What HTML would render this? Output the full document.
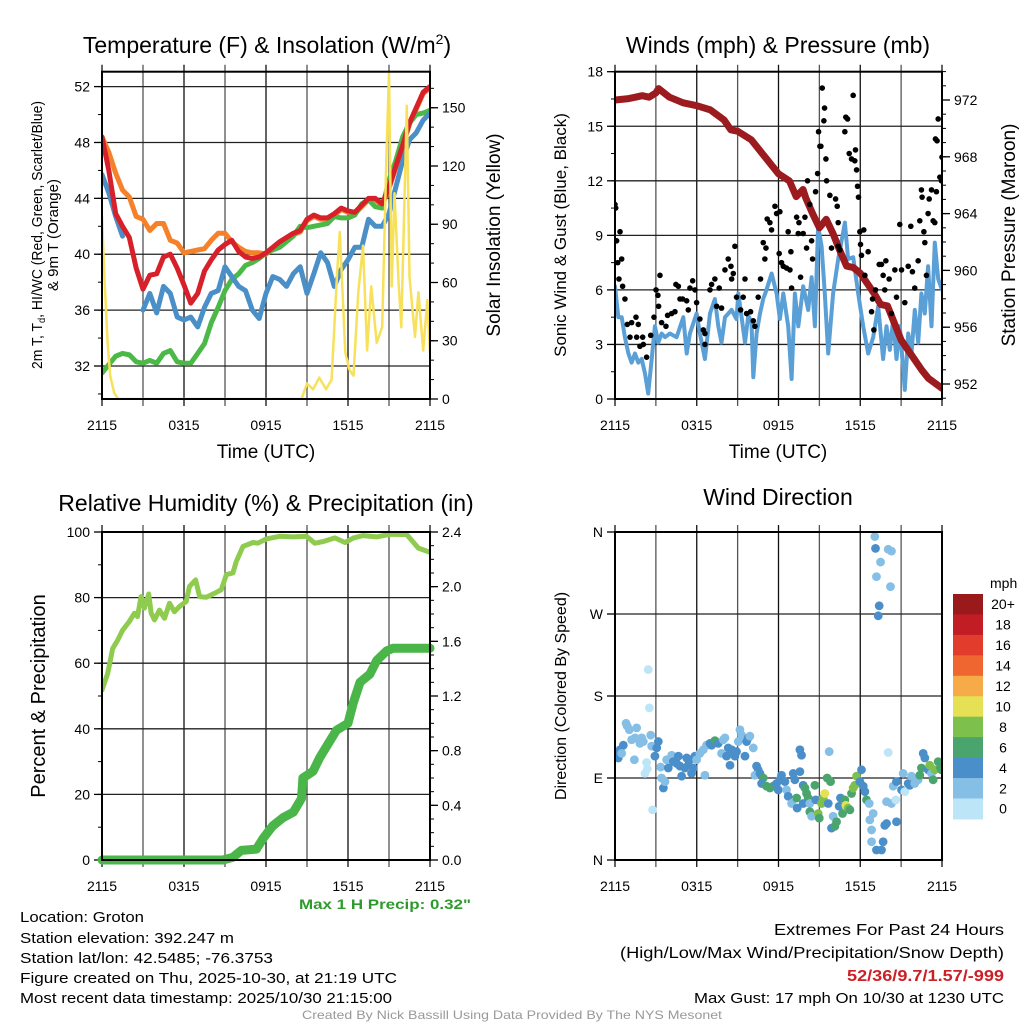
<!DOCTYPE html>
<html><head><meta charset="utf-8"><style>
html,body{margin:0;padding:0;background:#fff;}
svg{display:block;font-family:"Liberation Sans",sans-serif;}
</style></head><body>
<svg id="chart" width="1024" height="1024" viewBox="0 0 1024 1024" xmlns="http://www.w3.org/2000/svg">
<defs>
<clipPath id="c1"><rect x="102" y="71.7" width="328" height="327.3"/></clipPath>
<clipPath id="c2"><rect x="615" y="71.7" width="327" height="327.3"/></clipPath>
<clipPath id="c3"><rect x="102" y="532" width="328" height="328"/></clipPath>
<clipPath id="c4"><rect x="615" y="532" width="327" height="328"/></clipPath>
</defs>
<g font-size="23" text-anchor="middle" fill="#000">
<text x="267" y="53">Temperature (F) &amp; Insolation (W/m<tspan font-size="14" dy="-9">2</tspan><tspan dy="9">)</tspan></text>
<text x="778" y="53">Winds (mph) &amp; Pressure (mb)</text>
<text x="266" y="511">Relative Humidity (%) &amp; Precipitation (in)</text>
<text x="778" y="505">Wind Direction</text>
</g>
<g font-size="19" text-anchor="middle">
<text x="266" y="458">Time (UTC)</text>
<text x="778" y="458">Time (UTC)</text>
<text font-size="15" textLength="268" lengthAdjust="spacingAndGlyphs" transform="translate(42,235) rotate(-90)">2m T, T<tspan font-size="10" dy="3">d</tspan><tspan dy="-3">, HI/WC (Red, Green, Scarlet/Blue)</tspan></text>
<text font-size="15" transform="translate(58,235) rotate(-90)">&amp; 9m T (Orange)</text>
<text transform="translate(500,235) rotate(-90)">Solar Insolation (Yellow)</text>
<text font-size="17" transform="translate(566,235) rotate(-90)">Sonic Wind &amp; Gust (Blue, Black)</text>
<text transform="translate(1015,235) rotate(-90)">Station Pressure (Maroon)</text>
<text font-size="20" transform="translate(45,696) rotate(-90)">Percent &amp; Precipitation</text>
<text font-size="16" transform="translate(566,696) rotate(-90)">Direction (Colored By Speed)</text>
</g>
<text x="471" y="909" font-size="14" font-weight="bold" fill="#2e9a2e" text-anchor="end" textLength="172" lengthAdjust="spacingAndGlyphs">Max 1 H Precip: 0.32"</text>
<g font-size="15" fill="#000">
<text x="20" y="922" textLength="124" lengthAdjust="spacingAndGlyphs">Location: Groton</text>
<text x="20" y="943" textLength="214" lengthAdjust="spacingAndGlyphs">Station elevation: 392.247 m</text>
<text x="20" y="963" textLength="253" lengthAdjust="spacingAndGlyphs">Station lat/lon: 42.5485; -76.3753</text>
<text x="20" y="983" textLength="377" lengthAdjust="spacingAndGlyphs">Figure created on Thu, 2025-10-30, at 21:19 UTC</text>
<text x="20" y="1003" textLength="372" lengthAdjust="spacingAndGlyphs">Most recent data timestamp: 2025/10/30 21:15:00</text>
</g>
<g font-size="16" text-anchor="end">
<text x="1004" y="935" textLength="230" lengthAdjust="spacingAndGlyphs">Extremes For Past 24 Hours</text>
<text x="1004" y="958" textLength="384" lengthAdjust="spacingAndGlyphs">(High/Low/Max Wind/Precipitation/Snow Depth)</text>
<text x="1004" y="981" font-weight="bold" fill="#cc2027" textLength="157" lengthAdjust="spacingAndGlyphs">52/36/9.7/1.57/-999</text>
<text x="1004" y="1003" font-size="15" textLength="310" lengthAdjust="spacingAndGlyphs">Max Gust: 17 mph On 10/30 at 1230 UTC</text>
</g>
<text x="512" y="1019" font-size="12" fill="#999" text-anchor="middle" textLength="420" lengthAdjust="spacingAndGlyphs">Created By Nick Bassill Using Data Provided By The NYS Mesonet</text>
</svg>
<script>
// ---------- data ----------
const halfHours = Array.from({length:49},(_,i)=>i/2);
const tempRed = [48.4,46.0,42.9,42.0,41.2,39.0,37.5,38.5,38.6,39.8,40.0,39.0,37.8,36.5,37.2,38.8,39.6,40.3,40.7,41.0,40.2,39.8,39.7,39.8,40.1,40.5,40.9,41.2,41.5,41.7,42.5,42.8,42.6,42.6,42.9,43.3,43.1,43.0,43.5,44.0,44.0,43.6,44.8,46.3,47.8,49.4,50.5,51.6,52.0];
const tempOrange = [48.4,47.3,45.8,44.6,44.1,42.7,42.5,41.7,42.2,42.2,41.0,40.8,40.1,40.2,40.3,40.4,41.0,41.5,41.5,40.9,40.5,40.2,40.1,40.1,40.0,40.4,40.8,41.1,41.4,41.6,42.4,42.7,42.5,42.5,42.8,43.2,43.0,42.9,43.4,43.9,43.9,43.5,44.7,46.2,47.7,49.3,50.4,51.5,51.9];
const tempGreen = [31.5,32.1,32.7,32.9,32.8,32.3,32.2,32.4,32.2,32.9,33.1,32.3,32.2,32.2,32.9,33.6,35.1,36.2,37.4,38.2,38.6,39.2,39.4,39.7,40.1,40.3,40.5,40.9,41.3,42.0,41.9,42.0,42.1,42.2,42.7,42.6,42.6,42.8,43.6,43.9,43.4,43.3,45.3,46.7,48.4,49.4,50.0,50.1,50.3];
const tempBlue = [45.7,44.4,42.7,41.3,null,null,36.0,37.2,35.8,37.7,37.2,35.5,35.3,35.5,34.8,36.2,37.2,37.4,39.1,38.4,37.7,37.4,36.0,35.4,37.2,38.4,38.2,37.7,38.6,39.1,37.2,38.6,40.1,39.4,37.7,38.9,39.6,40.5,40.5,42.5,42.0,42.0,42.9,44.8,46.7,48.2,48.7,49.6,50.1];
const solarHours = [0,0.2,0.4,0.6,0.9,1.2,14.6,15.0,15.45,15.9,16.4,16.8,17.2,17.4,17.8,18.1,18.4,18.75,19.1,19.4,19.7,20.1,20.5,20.8,21.0,21.2,21.4,21.7,21.9,22.3,22.5,22.9,23.15,23.5,23.8,24.0];
const solarVals = [94,60,30,12,3,0,0,8,5,11,5,10,65,86,24,15,12,55,79,25,58,29,37,123,168,58,106,60,37,151,63,32,55,25,51,24];
const pressHours = [0,1,2,2.5,3,3.2,4,5,6,7,8,8.5,9,10,11,12,12.8,13.3,13.8,14,14.5,15,15.5,16,16.5,17,17.5,18,18.5,19,19.5,20,20.5,21,21.5,22,22.5,23,24];
const pressVals = [972.0,972.1,972.3,972.2,972.5,972.8,972.2,971.8,971.6,971.3,970.6,969.9,969.8,969.2,968.0,966.8,966.3,965.2,965.7,965.1,964.0,963.0,963.6,962.6,961.4,960.3,960.2,959.8,959.1,958.4,957.6,957.5,956.3,955.1,954.4,953.7,953.0,952.4,951.7];
const windHours = [0,0.24,0.49,0.73,0.98,1.22,1.47,1.71,1.96,2.2,2.44,2.69,2.93,3.18,3.42,3.67,4.03,4.52,5.01,5.26,5.5,5.99,6.23,6.6,6.97,7.33,7.58,7.82,8.07,8.56,8.92,9.05,9.29,9.54,9.78,10.02,10.15,10.39,10.64,10.88,11.12,11.49,11.86,12.1,12.35,12.71,12.96,13.2,13.45,13.81,14.18,14.43,14.67,14.91,15.16,15.4,15.65,16.01,16.38,16.87,17.11,17.48,17.85,18.22,18.58,18.95,19.32,19.68,19.93,20.17,20.42,20.66,20.9,21.27,21.52,21.76,22.0,22.25,22.49,22.74,22.98,23.23,23.47,23.72,24];
const windVals = [6.2,4.5,4.5,3.4,2.5,2.0,2.5,2.0,2.2,1.4,0.3,2.2,4.0,3.1,3.6,3.4,3.6,3.4,4.5,2.5,3.6,4.7,3.6,2.2,4.7,5.5,4.0,3.1,4.5,4.9,4.4,5.8,4.5,3.1,4.6,4.2,1.2,3.6,4.7,5.5,6.0,6.9,5.8,4.4,5.8,4.0,1.1,5.8,4.0,6.2,4.9,6.7,4.0,9.5,8.4,5.8,2.5,5.8,7.7,9.7,7.7,7.8,5.8,4.0,2.5,3.4,5.1,2.2,4.0,2.7,4.4,2.2,4.0,0.5,3.6,2.5,4.9,3.1,5.8,4.7,7.3,4.0,8.6,6.6,6.0];
const gustHours = [0,0.05,0.12,0.37,0.2,0.49,0.29,0.56,0.73,0.9,1.22,1.54,1.71,1.1,1.59,2.03,1.83,2.08,2.32,2.62,2.86,3.01,3.15,3.2,3.3,3.42,3.74,3.86,4.16,4.4,4.47,4.65,4.77,4.96,5.26,5.38,5.5,5.7,5.87,5.99,6.23,6.48,6.6,6.6,6.97,7.09,7.33,7.46,7.65,7.82,8.07,8.31,8.51,8.68,8.8,8.56,8.92,9.22,9.41,9.54,9.66,9.95,10.15,10.27,10.51,10.68,10.88,11.08,11.0,11.17,11.37,11.49,11.74,11.86,12.1,12.05,12.22,12.35,12.59,12.84,12.96,12.71,12.91,13.33,13.5,13.45,13.62,13.81,13.94,14.06,14.13,14.3,14.43,14.5,14.72,14.87,14.94,15.04,15.11,15.21,15.33,15.38,15.48,15.53,15.77,16.19,16.31,16.38,15.89,16.38,16.5,16.87,16.94,17.07,17.19,17.36,17.48,17.65,17.73,17.8,17.87,17.6,17.97,18.09,18.02,18.26,18.34,18.58,18.83,18.9,19.0,19.12,19.39,19.56,19.68,19.8,19.88,20.12,20.29,20.54,20.66,20.9,21.03,21.27,21.52,21.71,21.83,22.0,22.25,22.37,22.49,22.54,22.67,22.74,22.86,22.98,23.06,23.23,23.35,23.47,23.59,23.52,23.64,23.72,23.84,23.96,24];
const gustVals = [10.7,10.5,8.7,9.2,7.5,7.7,6.6,6.2,5.5,4.1,4.2,4.5,4.1,3.4,3.4,3.4,2.9,3.0,2.3,3.5,4.5,6.0,5.7,5.1,6.8,4.2,4.0,4.6,4.7,4.8,6.3,6.2,5.5,5.5,5.4,4.9,6.1,6.5,6.0,5.3,4.4,3.8,3.6,3.0,6.0,6.3,6.6,5.1,6.1,5.0,7.1,7.7,7.3,6.9,8.4,6.6,5.6,4.9,5.6,6.6,4.7,4.8,4.3,4.0,5.6,6.6,8.6,8.3,7.7,9.9,9.7,9.3,10.6,10.2,10.3,8.0,7.5,7.3,7.2,7.1,6.1,9.2,8.1,10.0,9.7,9.1,6.7,9.1,10.0,8.3,12.0,10.7,8.7,7.7,11.4,12.4,14.7,13.9,13.9,17.1,15.3,16.0,13.2,12.0,11.2,11.0,10.6,9.7,8.3,8.4,8.2,14.7,15.5,15.4,13.5,13.2,16.7,13.7,12.6,11.7,11.1,13.1,9.2,7.9,8.5,9.3,6.8,8.1,4.8,5.5,3.8,6.0,7.4,7.4,6.8,6.0,7.6,6.6,4.7,7.1,5.6,9.6,7.1,5.3,7.3,9.5,7.0,6.1,7.6,9.8,11.5,11.1,9.2,8.6,6.8,10.2,11.0,11.5,9.8,9.7,11.4,14.3,14.2,15.4,12.2,12.0,13.3];
const rhHours = [0,0.42,0.78,1.15,1.5,2.0,2.37,2.6,2.86,3.1,3.42,3.6,3.84,4.2,4.57,4.94,5.3,5.67,6.16,6.4,6.85,7.14,7.63,8.24,8.73,9.1,9.58,9.83,10.32,11.05,11.4,12.03,13.0,13.98,14.96,15.57,16.2,17.04,17.78,18.4,19.1,20.1,21.08,22.3,23.15,24];
const rhVals = [51.8,56.9,64.5,67,70,72.7,75.2,74.2,80.3,76.8,81.1,75.2,73.2,76.2,73.7,78.3,75.7,77.3,78.8,83.4,85.4,80.3,80.1,81.3,82.4,87,87.5,91,95.6,96.8,96.6,97.9,98.7,98.5,98.7,96.6,97.1,98.2,96.8,98.2,98.9,98.5,99.3,99.2,95.1,93.8];
const precipHours = [0,8.85,9.58,10.2,11.3,11.8,12.5,13.25,14.0,14.6,14.7,15.45,15.94,16.67,17.16,18.0,18.39,18.88,19.6,20.1,20.83,21.3,24];
const precipVals = [0,0,0.02,0.07,0.08,0.16,0.25,0.31,0.35,0.45,0.6,0.65,0.75,0.87,0.95,1.0,1.15,1.3,1.36,1.46,1.53,1.55,1.55];
const dirHours = [0,0,0.24,0.37,0.61,0.49,0.81,0.9,1.05,1.22,1.47,1.59,1.78,1.96,2.08,1.83,1.42,2.32,2.2,2.37,2.44,2.52,2.62,2.76,2.69,2.93,3.06,3.18,3.35,3.42,3.55,3.67,3.79,3.91,4.16,4.28,4.52,4.65,4.77,4.89,5.13,5.26,5.38,5.5,5.62,5.75,5.87,5.99,6.23,6.48,6.6,6.72,6.97,7.09,7.33,7.58,7.82,7.95,8.07,8.19,8.31,8.44,8.56,8.68,8.8,8.92,9.05,9.17,9.29,9.54,9.66,9.78,9.9,10.15,10.39,10.51,10.27,10.64,10.88,10.76,11.12,11.37,11.61,11.74,11.86,11.98,12.1,12.22,12.47,12.59,12.71,12.96,13.08,13.2,13.33,13.37,13.57,13.69,13.57,13.81,13.94,14.06,14.18,13.81,14.3,14.3,14.43,14.67,14.74,14.91,14.99,15.16,15.28,15.4,15.57,15.65,15.72,15.82,15.89,16.01,16.14,16.26,16.45,16.55,16.7,16.87,16.94,17.11,17.24,17.36,17.48,17.6,17.73,18.09,17.97,18.22,18.34,18.46,18.66,18.7,18.95,18.83,18.83,19.19,19.56,19.68,19.8,19.93,19.93,20.29,20.42,20.61,20.66,20.66,21.03,21.15,21.27,21.52,21.64,21.76,22.0,22.25,22.37,22.49,22.62,22.74,22.98,23.1,23.23,23.35,23.47,23.72,23.89,23.96,20.05,19.07,19.12,19.49,19.19,20.05,20.29,20.22,19.39,19.32];
const dirDeg = [117,115,112,121,126,117,150,147,143,132,134,145,132,134,130,128,110,107,95,100,209,167,137,55,125,114,123,130,102,90,79,86,110,101,115,108,106,114,103,92,101,112,104,110,95,101,114,110,117,121,93,126,128,126,131,128,117,132,134,114,123,104,121,117,114,119,130,143,137,114,130,134,136,123,103,99,93,95,90,84,81,79,81,82,84,77,88,93,86,77,70,62,95,88,68,57,121,115,97,82,79,73,68,62,62,53,48,82,66,51,46,62,68,73,90,62,119,86,35,48,37,42,59,68,51,66,60,57,55,73,79,82,92,99,86,81,75,66,62,44,51,33,20,11,11,20,38,40,64,62,81,66,42,86,77,95,75,84,82,92,84,88,93,101,117,112,99,104,95,88,99,108,101,99,118,355,342,327,311,341,339,300,279,268];
const dirSpeed = [7,5,5,5,5,3,3,3,3,3,3,3,3,3,3,3,3,1,1,1,1,1,3,1,3,5,5,5,3,3,5,3,3,5,3,5,5,5,5,5,5,5,5,5,5,5,5,3,3,3,3,3,5,5,7,5,3,3,3,5,5,5,5,5,5,5,3,3,3,5,5,5,3,3,5,5,3,5,7,5,7,7,7,7,5,5,5,5,5,3,5,3,5,5,7,5,5,5,5,5,7,7,7,5,3,7,3,7,5,9,7,9,9,11,7,5,3,7,5,3,7,7,5,5,7,7,11,9,7,7,9,9,9,5,5,5,5,7,3,3,3,3,3,5,5,5,5,5,3,3,3,1,5,5,5,3,1,5,5,3,3,3,7,7,5,5,5,9,3,7,9,7,7,7,1,3,5,3,3,3,3,3,5,5];
const speedBins = [0,2,4,6,8,10,12,14,16,18,20];
const speedColors = ['#bde5f8','#86bfe6','#4b8fca','#4aa46e','#7dc14c','#e6e055','#f6ab48','#ef6630','#e23c2d','#c21d25','#9a1a1c'];
const speedLabels = ['0','2','4','6','8','10','12','14','16','18','20+'];
const timeLabels = ['2115','0315','0915','1515','2115'];

// ---------- helpers ----------
const NS='http://www.w3.org/2000/svg';
const svg=document.getElementById('chart');
function mk(tag, attrs, parent){const e=document.createElementNS(NS,tag);for(const k in attrs)e.setAttribute(k,attrs[k]);(parent||svg).appendChild(e);return e;}
function pathD(xs, ys, fx, fy){let d='',pen=false;for(let i=0;i<Math.min(xs.length,ys.length);i++){if(ys[i]===null){pen=false;continue;}d+=(pen?'L':'M')+fx(xs[i]).toFixed(1)+','+fy(ys[i]).toFixed(1);pen=true;}return d;}

const P1={x0:102,x1:430,y0:71.7,y1:399};
const P2={x0:615,x1:942,y0:71.7,y1:399};
const P3={x0:102,x1:430,y0:532,y1:860};
const P4={x0:615,x1:942,y0:532,y1:860};
const xs1=h=>P1.x0+h*(P1.x1-P1.x0)/24;
const xs2=h=>P2.x0+h*(P2.x1-P2.x0)/24;
const yTemp=v=>366-(v-32)*13.97;
const ySolar=v=>399-v*1.9417;
const yWind=v=>399-v*18.183;
const yPress=v=>384-(v-952)*14.2;
const yRH=v=>860-v*3.28;
const yPrecip=v=>860-v*136.67;
const yDir=v=>860-v*0.9111;

function frame(P,name,xs){
  const g=mk('g',{});
  
  
  for(let h=0;h<=24;h+=3){
    const x=xs(h);
    const l=mk('line',{x1:x,x2:x,y1:P.y0-7,y2:P.y1+7,stroke:(h%6===0)?'#111':'#555','stroke-width':1.3},g);
    
    
  }
  timeLabels.forEach((t,i)=>{
    const tx=mk('text',{x:xs(i*6),y:P.y1+31,'font-size':14,'text-anchor':'middle'},g);
    
    
    tx.textContent=t;
  });
  return g;
}
function yaxis(P,name,vals,labels,fy,side,minors,grid){
  const g=mk('g',{});
  
  
  const x=side==='left'?P.x0:P.x1, s=side==='left'?-1:1;
  minors.forEach(v=>{const y=fy(v);mk('line',{x1:x,x2:x+s*4,y1:y,y2:y,stroke:'#000','stroke-width':1},g);});
  vals.forEach((v,i)=>{
    const y=fy(v);
    if(grid){const gl=mk('line',{x1:P.x0,x2:P.x1,y1:y,y2:y,stroke:'#222','stroke-width':1.3},g);
      
      }
    mk('line',{x1:x,x2:x+s*8,y1:y,y2:y,stroke:'#000','stroke-width':1.3},g);
    const t=mk('text',{x:x+s*12,y:y+5,'font-size':14,'text-anchor':side==='left'?'end':'start'},g);
    
    
    t.textContent=labels[i];
  });
}
function range(a,b,s){const r=[];for(let v=a;v<=b+1e-9;v+=s)r.push(+v.toFixed(3));return r;}
function border(P,name){const r=mk('rect',{x:P.x0,y:P.y0,width:P.x1-P.x0,height:P.y1-P.y0,fill:'none',stroke:'#000','stroke-width':2});
  
  }
function series(xsArr,ysArr,fx,fy,color,w,clip,name){
  const p=mk('path',{d:pathD(xsArr,ysArr,fx,fy),fill:'none',stroke:color,'stroke-width':w,'stroke-linejoin':'round','stroke-linecap':'round','clip-path':'url(#'+clip+')'});
  
  
  return p;
}

// ---------- panel 1 ----------
frame(P1,'temp',xs1);
yaxis(P1,'temp-y-axis',[32,36,40,44,48,52],['32','36','40','44','48','52'],yTemp,'left',range(30,52,2),true);
yaxis(P1,'solar-y-axis',[0,30,60,90,120,150],['0','30','60','90','120','150'],ySolar,'right',range(0,160,10),false);
series(halfHours,tempOrange,xs1,yTemp,'#f5822a',5,'c1','temp-9m-line');
series(halfHours,tempGreen,xs1,yTemp,'#4cb848',5,'c1','dewpoint-line');
series(halfHours,tempBlue,xs1,yTemp,'#4a8fc8',5,'c1','heat-index-line');
series(halfHours,tempRed,xs1,yTemp,'#d7202a',5,'c1','temp-2m-line');
series(solarHours,solarVals,xs1,ySolar,'#f8e15a',2.5,'c1','solar-line');
border(P1,'temp');

// ---------- panel 2 ----------
frame(P2,'wind',xs2);
yaxis(P2,'wind-y-axis',[0,3,6,9,12,15,18],['0','3','6','9','12','15','18'],yWind,'left',range(0,18,1.5),true);
yaxis(P2,'pressure-y-axis',[952,956,960,964,968,972],['952','956','960','964','968','972'],yPress,'right',range(951,974,1),false);
series(windHours,windVals,xs2,yWind,'#5a9fd6',4,'c2','wind-speed-line');
series(pressHours,pressVals,xs2,yPress,'#9b1b1e',7,'c2','pressure-line');
{
  const g=mk('g',{'clip-path':'url(#c2)'});
  
  
  for(let i=0;i<Math.min(gustHours.length,gustVals.length);i++){
    const c=mk('circle',{cx:xs2(gustHours[i]),cy:yWind(gustVals[i]),r:2.8,fill:'#000'},g);
    
    
  }
}
border(P2,'wind');

// ---------- panel 3 ----------
frame(P3,'humidity',xs1);
yaxis(P3,'humidity-y-axis',[0,20,40,60,80,100],['0','20','40','60','80','100'],yRH,'left',range(0,100,10),true);
yaxis(P3,'precip-y-axis',[0,0.4,0.8,1.2,1.6,2.0,2.4],['0.0','0.4','0.8','1.2','1.6','2.0','2.4'],yPrecip,'right',range(0,2.4,0.1),false);
series(rhHours,rhVals,xs1,yRH,'#8fcb4f',5,'c3','humidity-line');
series(precipHours,precipVals,xs1,yPrecip,'#4ab649',9,'c3','precip-line').removeAttribute('clip-path');
border(P3,'humidity');

// ---------- panel 4 ----------
frame(P4,'direction',xs2);
yaxis(P4,'direction-y-axis',[0,90,180,270,360],['N','E','S','W','N'],yDir,'left',[],true);
{
  const g=mk('g',{'clip-path':'url(#c4)'});
  
  
  const colorFor=s=>{let k=0;for(let j=0;j<speedBins.length;j++)if(s>=speedBins[j])k=j;return speedColors[k];};
  const n=Math.min(dirHours.length,dirDeg.length,dirSpeed.length);
  for(let i=0;i<n;i++){
    const c=mk('circle',{cx:xs2(dirHours[i]),cy:yDir(dirDeg[i]),r:4.4,fill:colorFor(dirSpeed[i])},g);
    
    
  }
}
border(P4,'direction');
{
  const g=mk('g',{});
  
  
  const t=mk('text',{x:990,y:588,'font-size':14},g);
  
  
  t.textContent='mph';
  const top=594,bh=20.45;
  for(let i=0;i<speedColors.length;i++){
    const k=speedColors.length-1-i;
    const r=mk('rect',{x:953,y:top+i*bh,width:30,height:bh+0.5,fill:speedColors[k]},g);
    
    
    const l=mk('text',{x:1003,y:top+i*bh+bh/2+5,'font-size':14,'text-anchor':'middle'},g);
    
    
    l.textContent=speedLabels[k];
  }
}
</script>
</body></html>
